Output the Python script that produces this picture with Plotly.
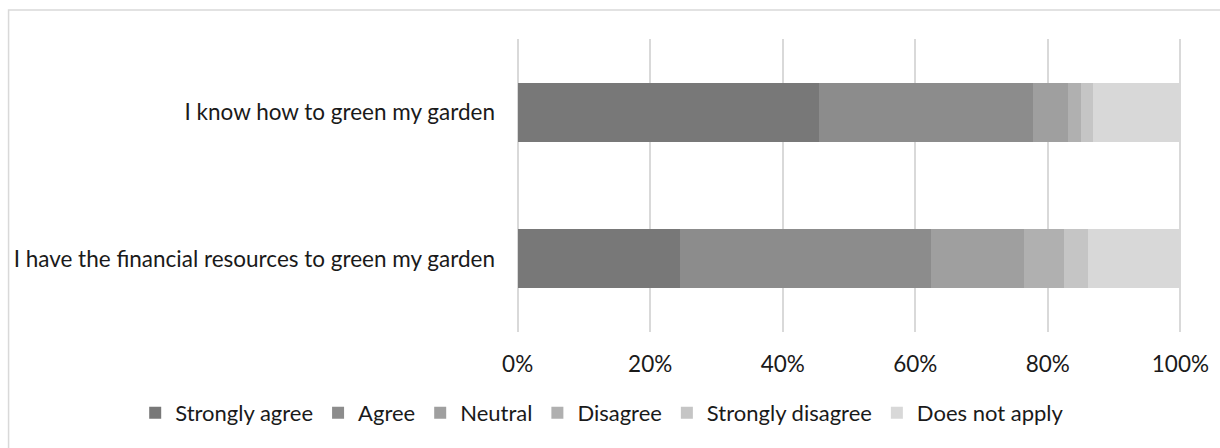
import plotly.graph_objects as go

categories = ["I have the financial resources to green my garden", "I know how to green my garden"]
series_names = ["Strongly agree", "Agree", "Neutral", "Disagree", "Strongly disagree", "Does not apply"]
strongly_agree = [24.5, 45.5]
agree = [37.8, 32.3]
neutral = [14.1, 5.3]
disagree = [6.1, 1.9]
strongly_disagree = [3.5, 1.8]
does_not_apply = [14.0, 13.2]
tick_vals = [0, 20, 40, 60, 80, 100]
tick_text = ["0%", "20%", "40%", "60%", "80%", "100%"]

series_values = [strongly_agree, agree, neutral, disagree, strongly_disagree, does_not_apply]
colors = ["#787878", "#8c8c8c", "#9f9f9f", "#b0b0b0", "#c5c5c5", "#d8d8d8"]

W, H = 1220, 448
X0PX, X100PX = 518, 1180          # pixel positions of 0% and 100%
SCALE = (X100PX - X0PX) / 100.0
PADV = 1.0                        # range padding (in %) so edge gridlines show
L = X0PX - PADV * SCALE
R = X100PX + PADV * SCALE
T, B = 39, 332

FONT = "Lato, 'Open Sans', sans-serif"

fig = go.Figure()
for name, vals, col in zip(series_names, series_values, colors):
    fig.add_trace(go.Bar(
        y=categories, x=vals, name=name, orientation="h",
        marker=dict(color=col, line=dict(width=0)),
    ))

pw = R - L
ph = B - T

def px_x(x):
    return (x - L) / pw

def px_y(y):
    return (B - y) / ph

fig.update_layout(
    width=W, height=H,
    barmode="stack", bargap=0.6,
    paper_bgcolor="white", plot_bgcolor="white",
    margin=dict(l=L, r=W - R, t=T, b=H - B, pad=0, autoexpand=False),
    font=dict(family=FONT, size=22.5, color="#1a1a1a"),
    xaxis=dict(range=[-PADV, 100 + PADV], tickvals=tick_vals, ticktext=tick_text,
               showgrid=True, gridcolor="#d9d9d9", gridwidth=1.5,
               zeroline=False, showline=False, ticks="", ticklabelstandoff=16,
               fixedrange=True),
    yaxis=dict(categoryorder="array", categoryarray=categories,
               showgrid=False, zeroline=False, showline=False, ticks="",
               ticklabelstandoff=15, fixedrange=True),
    legend=dict(orientation="h", x=px_x(136), xanchor="left",
                y=px_y(413), yanchor="middle", font=dict(size=22),
                itemwidth=30, traceorder="normal", bgcolor="rgba(0,0,0,0)"),
    shapes=[dict(type="rect", xref="paper", yref="paper",
                 x0=px_x(9.5), x1=px_x(1240), y0=px_y(470), y1=px_y(10),
                 line=dict(color="#d9d9d9", width=1.5), fillcolor="rgba(0,0,0,0)",
                 layer="below")],
)

fig.write_html("out.html")
